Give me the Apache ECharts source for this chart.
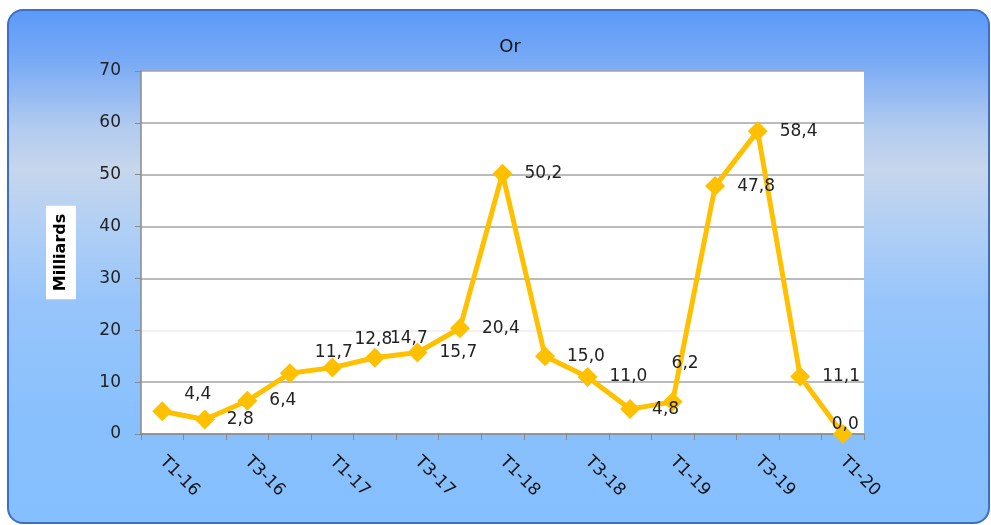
<!DOCTYPE html>
<html>
<head>
<meta charset="utf-8">
<script src="https://cdn.jsdelivr.net/npm/echarts@6/dist/echarts.min.js"></script>
<style>
  html, body { margin: 0; padding: 0; background: #fff; }
  #chart { width: 991px; height: 525px; }
</style>
</head>
<body>
<div id="chart"></div>
<script>
// quarters T1-16 .. T1-20
const categories = ['T1-16','T2-16','T3-16','T4-16','T1-17','T2-17','T3-17','T4-17',
  'T1-18','T2-18','T3-18','T4-18','T1-19','T2-19','T3-19','T4-19','T1-20']
const orValues = [4.4, 2.8, 6.4, 11.7, 12.8, 14.7, 15.7, 20.4, 50.2, 15.0, 11.0, 4.8, 6.2, 47.8, 58.4, 11.1, 0.0]
const yTicks = [0, 10, 20, 30, 40, 50, 60, 70]

// a few labels sit off their default place in the original
const labelShift = { 0: [0, -17], 3: [3, -21], 4: [0, -28], 5: [-7, -19], 12: [-23, -38], 16: [-33, -9] }

const font = 'DejaVu Sans'
const gridColors = yTicks.map(v => v === 20 ? '#ececec' : '#a4a4a4')

const chart = echarts.init(document.getElementById('chart'))

chart.setOption({
  animation: false,
  graphic: [{
    type: 'rect',
    z: -10,
    shape: { x: 8, y: 10, width: 981, height: 513, r: 15 },
    style: {
      stroke: '#3d6fc9',
      lineWidth: 2,
      fill: new echarts.graphic.LinearGradient(0, 0, 0, 1, [
        { offset: 0, color: '#5b99f9' },
        { offset: 0.1, color: '#78aaf5' },
        { offset: 0.23, color: '#b2cbef' },
        { offset: 0.31, color: '#c6d6ec' },
        { offset: 0.43, color: '#b0cff5' },
        { offset: 0.57, color: '#97c5fa' },
        { offset: 0.8, color: '#88c0fd' },
        { offset: 1, color: '#86bffd' }
      ])
    }
  }],
  title: {
    text: 'Or',
    left: 505,
    top: 33,
    textAlign: 'center',
    textStyle: { fontFamily: font, fontSize: 18, fontWeight: 'normal', color: '#111' }
  },
  grid: {
    left: 141, right: 127, top: 71, bottom: 91,
    show: true, backgroundColor: '#fff', borderWidth: 0
  },
  xAxis: {
    type: 'category',
    data: categories,
    boundaryGap: true,
    axisLine: { lineStyle: { color: '#8a8a8a', width: 1.5 } },
    axisTick: { show: true, interval: 0, length: 6, lineStyle: { color: '#8a8a8a' } },
    axisLabel: {
      interval: 1, rotate: -45, margin: 25,
      fontFamily: font, fontSize: 17, color: '#111'
    }
  },
  yAxis: {
    type: 'value',
    min: 0, max: 70, interval: 10,
    name: 'Milliards',
    nameLocation: 'middle',
    nameRotate: 90,
    nameGap: 65,
    nameTextStyle: {
      fontFamily: font, fontSize: 16, fontWeight: 'bold', color: '#000',
      backgroundColor: '#fff', padding: [7, 8]
    },
    axisLine: { show: true, lineStyle: { color: '#8a8a8a', width: 1.5 } },
    axisTick: { show: true, length: 6, lineStyle: { color: '#8a8a8a' } },
    axisLabel: { fontFamily: font, fontSize: 17, color: '#222', margin: 20 },
    splitLine: { lineStyle: { color: gridColors, width: 1.5 } }
  },
  series: [{
    type: 'line',
    data: orValues.map((v, i) => {
      const s = labelShift[i]
      return s ? { value: v, label: { offset: s } } : v
    }),
    symbol: 'diamond',
    symbolSize: 20,
    lineStyle: { color: '#ffc000', width: 5 },
    itemStyle: { color: '#ffc000' },
    label: {
      show: true,
      position: 'right',
      distance: 12,
      fontFamily: font,
      fontSize: 17,
      color: '#222',
      formatter: p => p.value.toFixed(1).replace('.', ',')
    }
  }]
})
</script>
</body>
</html>
